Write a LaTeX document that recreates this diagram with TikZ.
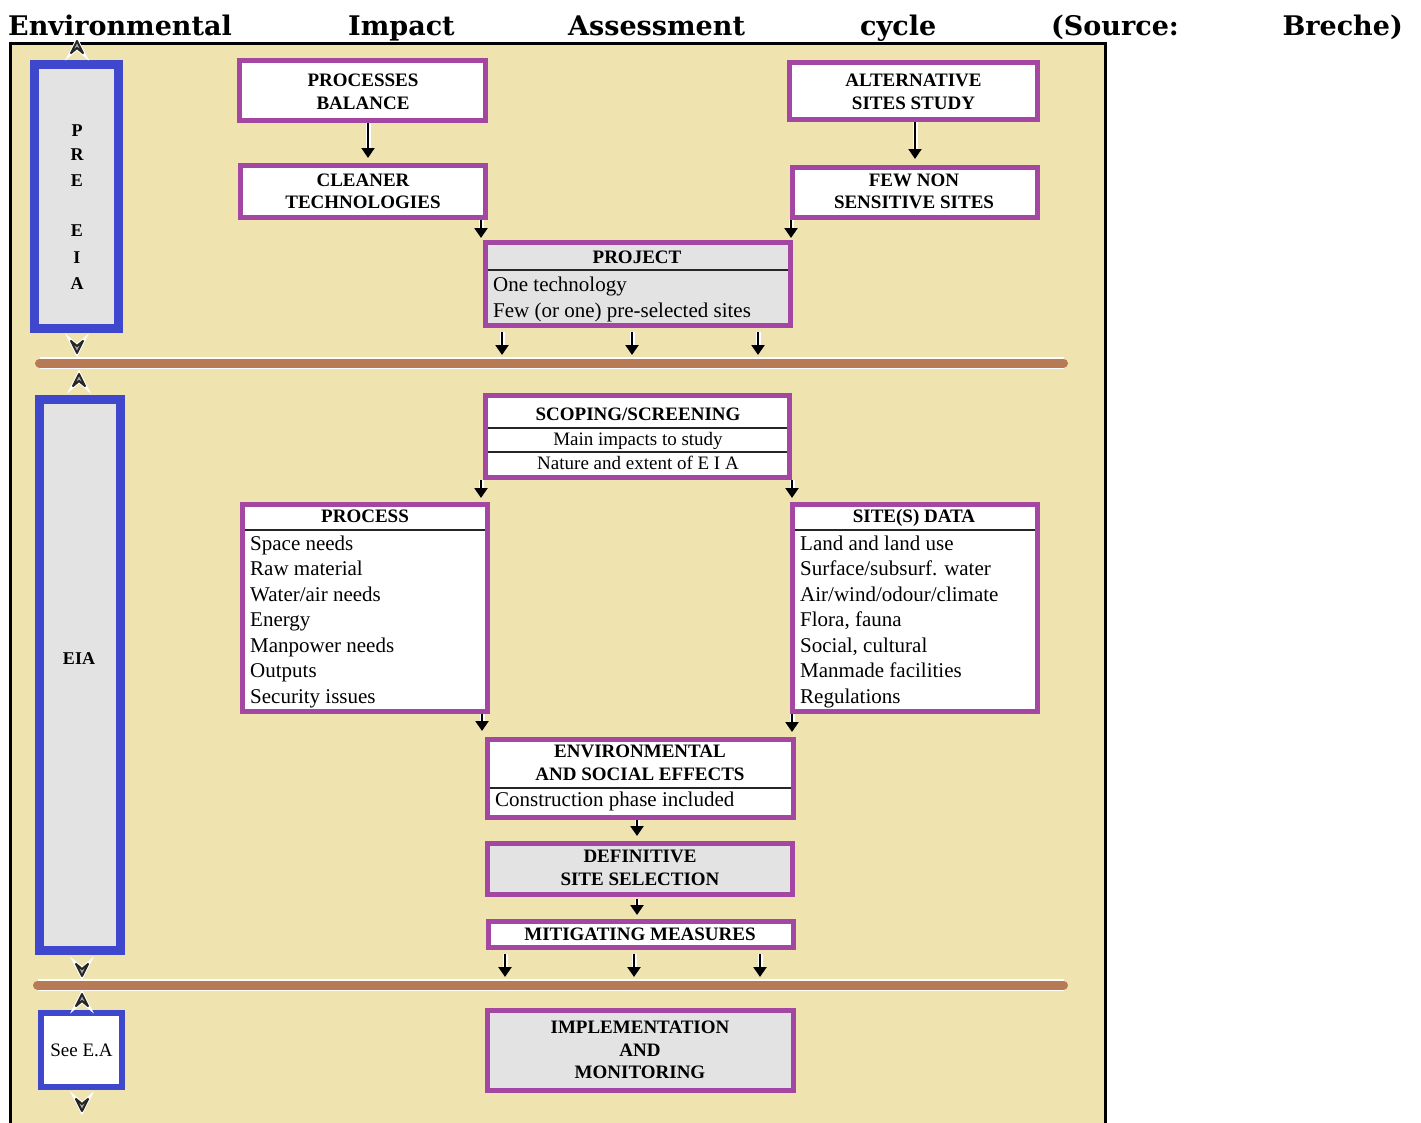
\documentclass[tikz,border=0pt]{standalone}
\usepackage{fontspec}
\setmainfont{Liberation Serif}
\newfontfamily\titlefont{DejaVu Serif}
\usetikzlibrary{arrows.meta,calc}
\definecolor{beige}{HTML}{EFE3AF}
\definecolor{purp}{HTML}{A347A3}
\definecolor{blu}{HTML}{3F48CC}
\definecolor{brn}{HTML}{B87A55}
\definecolor{gry}{HTML}{E3E3E3}
\begin{document}
\begin{tikzpicture}[x=1pt,y=-1pt,
  pbox/.style={draw=purp,line width=5pt,inner sep=0pt,fill=white},
  gbox/.style={pbox,fill=gry},
  sbox/.style={draw=blu,line width=9pt,inner sep=0pt,fill=gry},
  capt/.style={font=\fontsize{19}{22}\selectfont\bfseries,inner sep=0pt,anchor=base},
  sidetxt/.style={font=\fontsize{18}{22}\selectfont\bfseries,inner sep=0pt,anchor=base},
  itm/.style={font=\fontsize{21}{25}\selectfont,inner sep=0pt,anchor=base west},
  smltxt/.style={font=\fontsize{19}{22}\selectfont,inner sep=0pt,anchor=base},
  titw/.style={font=\titlefont\fontsize{27}{30}\selectfont\bfseries,inner sep=0pt,anchor=base west},
  seprule/.style={line width=1.3pt,black!85},
  arr/.style={line width=2.4pt,-{Triangle[length=10pt,width=13pt]},preaction={draw=white,line width=5pt}},
  chevs/.style={line width=2pt,line join=round,draw=black!85,fill=black!35,preaction={draw=white,line width=4pt}},
  brbar/.style={line width=9pt,brn,line cap=round,preaction={draw=white,line width=12pt}}
]
\useasboundingbox (0,0) rectangle (1421,1122);
\fill[white] (0,0) rectangle (1421,1122);

% title
\node[titw] (w1) at (8,35) {Environmental};
\node[titw] (w2) at (348,35) {Impact};
\node[titw] (w3) at (568,35) {Assessment};
\node[titw] (w4) at (860,35) {cycle};
\node[titw] (w5) at (1051,35) {(Source:};
\node[titw,anchor=base east] (w6) at (1403,35) {Breche)};

% frame
\fill[beige] (10,43) rectangle (1105,1130);
\draw[line width=3pt] (10,1130) -- (10,43) -- (1105,43) -- (1105,1130);

% bars
\coordinate (bar1w) at (39.5,363);
\coordinate (bar1e) at (1063.5,363);
\coordinate (bar2w) at (37.5,985);
\coordinate (bar2e) at (1063.5,985);
\draw[brbar] (bar1w) -- (bar1e);
\draw[brbar] (bar2w) -- (bar2e);

% side boxes
\node[sbox,minimum width=84pt,minimum height=264pt] (pre) at (76.5,196.5) {};
\node[sbox,minimum width=81pt,minimum height=551pt] (eia) at (80,675) {};
\node[sbox,line width=6pt,fill=white,minimum width=81pt,minimum height=74pt] (see) at (81.5,1050) {};
\node[sidetxt] (sP) at (77,136) {P};
\node[sidetxt] (sR) at (77,160) {R};
\node[sidetxt] (sE) at (77,186) {E};
\node[sidetxt] (sE2) at (77,236) {E};
\node[sidetxt] (sI) at (77,263) {I};
\node[sidetxt] (sA) at (77,289) {A};
\node[sidetxt] (sEIA) at (79,664) {EIA};
\node[smltxt] (sSee) at (81.5,1056) {See E.A};

% chevrons (up: apex at top; down: apex at bottom)
\draw[chevs] ($(pre.north)+(-5.5,-7)$) -- ++(6,-12) -- ++(6,12) -- ++(-6,-5) -- cycle;
\draw[chevs] ($(pre.south)+(-5.5,8)$) -- ++(6,12) -- ++(6,-12) -- ++(-6,5) -- cycle;
\draw[chevs] ($(eia.north)+(-7,-9)$) -- ++(6,-12) -- ++(6,12) -- ++(-6,-5) -- cycle;
\draw[chevs] ($(eia.south)+(-4,9)$) -- ++(6,12) -- ++(6,-12) -- ++(-6,5) -- cycle;
\draw[chevs] ($(see.north)+(-5.5,-4)$) -- ++(6,-12) -- ++(6,12) -- ++(-6,-5) -- cycle;
\draw[chevs] ($(see.south)+(-5.5,9)$) -- ++(6,12) -- ++(6,-12) -- ++(-6,5) -- cycle;

% main boxes
\node[pbox,minimum width=246pt,minimum height=60pt] (pb) at (362.5,90.5) {};
\node[pbox,minimum width=248pt,minimum height=57pt] (alt) at (913.5,91) {};
\node[pbox,minimum width=245pt,minimum height=52pt] (ct) at (363,191.5) {};
\node[pbox,minimum width=245pt,minimum height=50pt] (fn) at (915,192.5) {};
\node[gbox,minimum width=305pt,minimum height=83pt] (pj) at (638,284) {};
\node[pbox,minimum width=304pt,minimum height=82pt] (sc) at (637.5,436.5) {};
\node[pbox,minimum width=245pt,minimum height=207pt] (pr) at (365,608) {};
\node[pbox,minimum width=245pt,minimum height=207pt] (sd) at (915,608) {};
\node[pbox,minimum width=306pt,minimum height=78pt] (es) at (640.5,778.5) {};
\node[gbox,minimum width=305pt,minimum height=51pt] (ds) at (640,869) {};
\node[pbox,minimum width=305pt,minimum height=26pt] (mm) at (641,934.5) {};
\node[gbox,minimum width=306pt,minimum height=80pt] (im) at (640.5,1050.5) {};

% separators
\draw[seprule] (488,270) -- (788,270);
\draw[seprule] (488,428) -- (787,428);
\draw[seprule] (488,452) -- (787,452);
\draw[seprule] (245,530) -- (485,530);
\draw[seprule] (795,530) -- (1035,530);
\draw[seprule] (490,788) -- (791,788);

% texts
\node[capt] (tpb1) at (363,86) {PROCESSES};
\node[capt] (tpb2) at (363,109) {BALANCE};
\node[capt] (tal1) at (913.5,86) {ALTERNATIVE};
\node[capt] (tal2) at (913.5,109) {SITES STUDY};
\node[capt] (tct1) at (363,186) {CLEANER};
\node[capt] (tct2) at (363,208) {TECHNOLOGIES};
\node[capt] (tfn1) at (914,186) {FEW NON};
\node[capt] (tfn2) at (914,208) {SENSITIVE SITES};
\node[capt] (tpj) at (637,263) {PROJECT};
\node[itm] (tpj1) at (493,291) {One technology};
\node[itm] (tpj2) at (493,317) {Few (or one) pre-selected sites};
\node[capt] (tsc) at (638,420) {SCOPING/SCREENING};
\node[smltxt] (tsc1) at (638,445) {Main impacts to study};
\node[smltxt] (tsc2) at (638,469) {Nature and extent of E I A};
\node[capt] (tpr) at (365,522) {PROCESS};
\node[itm] (tpr1) at (250,550) {Space needs};
\node[itm] (tpr2) at (250,575.5) {Raw material};
\node[itm] (tpr3) at (250,601) {Water/air needs};
\node[itm] (tpr4) at (250,626.5) {Energy};
\node[itm] (tpr5) at (250,652) {Manpower needs};
\node[itm] (tpr6) at (250,677.5) {Outputs};
\node[itm] (tpr7) at (250,703) {Security issues};
\node[capt] (tsd) at (914,522) {SITE(S) DATA};
\node[itm] (tsd1) at (800,550) {Land and land use};
\node[itm] (tsd2) at (800,575.5) {Surface/subsurf. water};
\node[itm] (tsd3) at (800,601) {Air/wind/odour/climate};
\node[itm] (tsd4) at (800,626.5) {Flora, fauna};
\node[itm] (tsd5) at (800,652) {Social, cultural};
\node[itm] (tsd6) at (800,677.5) {Manmade facilities};
\node[itm] (tsd7) at (800,703) {Regulations};
\node[capt] (tes1) at (640,757) {ENVIRONMENTAL};
\node[capt] (tes2) at (640,780) {AND SOCIAL EFFECTS};
\node[itm] (tes3) at (495,806) {Construction phase included};
\node[capt] (tds1) at (640,862) {DEFINITIVE};
\node[capt] (tds2) at (640,885) {SITE SELECTION};
\node[capt] (tmm) at (640,940) {MITIGATING MEASURES};
\node[capt] (tim1) at (640,1033) {IMPLEMENTATION};
\node[capt] (tim2) at (640,1056) {AND};
\node[capt] (tim3) at (640,1078) {MONITORING};

% x positions of arrows
\coordinate (xa) at (368,0);
\coordinate (xb) at (915,0);
\coordinate (xc) at (481,0);
\coordinate (xd) at (791,0);
\coordinate (xe) at (502,0);
\coordinate (xf) at (632,0);
\coordinate (xg) at (758,0);
\coordinate (xh) at (482,0);
\coordinate (xi) at (792,0);
\coordinate (xj) at (637,0);
\coordinate (xk) at (505,0);
\coordinate (xl) at (634,0);
\coordinate (xm) at (760,0);

% arrows
\draw[arr,line width=2pt,shorten >=5pt] (pb.south -| xa) -- (ct.north -| xa);
\draw[arr,line width=2pt,shorten >=6pt] (alt.south -| xb) -- (fn.north -| xb);
\draw[arr,shorten >=2pt] (ct.south -| xc) -- (pj.north -| xc);
\draw[arr,shorten >=2pt] (fn.south -| xd) -- (pj.north -| xd);
\draw[arr,shorten <=4pt,shorten >=8pt] (pj.south -| xe) -- (bar1w -| xe);
\draw[arr,shorten <=4pt,shorten >=8pt] (pj.south -| xf) -- (bar1w -| xf);
\draw[arr,shorten <=4pt,shorten >=8pt] (pj.south -| xg) -- (bar1w -| xg);
\draw[arr,shorten >=4pt] (sc.south -| xc) -- (pr.north -| xc);
\draw[arr,shorten >=4pt] (sc.south -| xi) -- (sd.north -| xi);
\draw[arr,shorten >=6pt] (pr.south -| xh) -- (es.north -| xh);
\draw[arr,shorten >=5pt] (sd.south -| xi) -- (es.north -| xi);
\draw[arr,shorten >=5pt] (es.south -| xj) -- (ds.north -| xj);
\draw[arr,shorten <=2pt,shorten >=4pt] (ds.south -| xj) -- (mm.north -| xj);
\draw[arr,shorten <=4pt,shorten >=8pt] (mm.south -| xk) -- (bar2w -| xk);
\draw[arr,shorten <=4pt,shorten >=8pt] (mm.south -| xl) -- (bar2w -| xl);
\draw[arr,shorten <=4pt,shorten >=8pt] (mm.south -| xm) -- (bar2w -| xm);
\end{tikzpicture}
\end{document}
